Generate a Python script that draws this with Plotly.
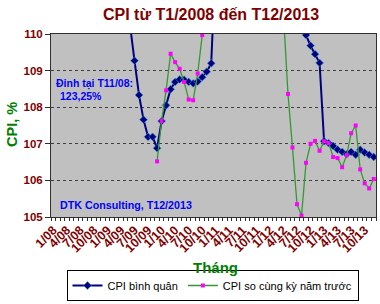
import plotly.graph_objects as go

# ---- data ----
years = ["08", "09", "10", "11", "12", "13"]
months = [f"{m}/{y}" for y in years for m in range(1, 13)]
tick_labels = months[::3]

cpi_binh_quan = [
    114.11, 114.90, 116.40, 117.60, 119.10, 120.40, 121.40, 122.20, 122.80, 123.10, 123.25, 122.97,
    117.48, 116.10, 114.50, 113.20, 111.70, 110.25, 109.27, 108.33, 107.66, 107.19, 107.19, 106.88,
    107.62, 108.05, 108.49, 108.69, 108.76, 108.75, 108.69, 108.65, 108.70, 108.82, 108.97, 109.20,
    112.17, 112.00, 112.50, 113.30, 114.10, 114.90, 115.60, 116.30, 116.90, 117.40, 117.80, 118.58,
    117.27, 116.85, 115.94, 114.58, 113.32, 112.38, 111.57, 110.35, 109.97, 109.68, 109.45, 109.21,
    107.07, 107.02, 106.94, 106.84, 106.78, 106.72, 106.78, 106.70, 106.84, 106.76, 106.70, 106.64,
]
cpi_cung_ky = [None] * 23 + [
    106.52,
    107.62, 108.46, 109.46, 109.23, 109.05, 108.69, 108.21, 108.19, 108.92, 109.97, 111.09, 111.75,
    112.17, 112.31, 113.16, 117.51, 119.78, 120.82, 122.16, 123.02, 122.42, 121.59, 119.83, 118.13,
    117.27, 116.44, 114.15, 110.54, 108.36, 106.90, 105.35, 105.04, 106.48, 107.00, 107.08, 106.81,
    107.07, 107.02, 106.64, 106.61, 106.36, 106.69, 107.29, 107.50, 106.30, 105.92, 105.78, 106.04,
]

x_idx = list(range(len(months)))
tick_idx = [months.index(t) for t in tick_labels]

FONT = "Liberation Sans, Arial, DejaVu Sans, sans-serif"
DARKRED = "#800000"
GREEN = "#008000"
BLUE_TXT = "#0000FF"

fig = go.Figure()
fig.add_trace(go.Scatter(
    x=x_idx, y=cpi_binh_quan, name="CPI bình quân", mode="lines+markers",
    line=dict(color="#000080", width=2),
    marker=dict(symbol="diamond", size=6, color="#000080", line=dict(color="#3399cc", width=0.6)),
    customdata=months,
))
fig.add_trace(go.Scatter(
    x=x_idx, y=cpi_cung_ky, name="CPI so cùng kỳ năm trước", mode="lines+markers",
    line=dict(color="#339933", width=1.3),
    marker=dict(symbol="square", size=4, color="#FF00FF"),
    customdata=months,
))

L, R, T, B = 51, 4, 34, 87
W, H = 380, 304
pw, ph = W - L - R, H - T - B


def px(xp):
    return (xp - L) / pw


def py(yp):
    return (H - B - yp) / ph


fig.update_layout(
    width=W, height=H,
    margin=dict(l=L, r=R, t=T, b=B, pad=0, autoexpand=False),
    paper_bgcolor="white", plot_bgcolor="#C0C0C0",
    font=dict(family=FONT, size=11, color="black"),
    showlegend=True,
    legend=dict(
        orientation="h", x=px(212.5), y=py(301), xanchor="center", yanchor="bottom",
        bgcolor="white", bordercolor="black", borderwidth=1,
        font=dict(size=11, color="black"), itemwidth=30,
        tracegroupgap=0,
    ),
    xaxis=dict(
        range=[-0.5, 71.5], tickmode="array", tickvals=tick_idx, ticktext=tick_labels,
        tickangle=-45, tickfont=dict(size=12.5, color=DARKRED, weight="bold"),
        ticks="", showgrid=False, zeroline=False,
        showline=True, linecolor="#303030", linewidth=1, mirror=True,
        minor=dict(ticks="outside", ticklen=3, tickcolor="#303030", tick0=-0.5, dtick=1, showgrid=False),
    ),
    yaxis=dict(
        range=[105, 110], dtick=1, tick0=105,
        tickfont=dict(size=11.5, color=DARKRED, weight="bold"),
        ticks="outside", ticklen=5, tickcolor="#303030",
        showgrid=True, gridcolor="#404040", griddash="dot", gridwidth=1,
        zeroline=False, showline=True, linecolor="#303030", linewidth=1, mirror=True,
    ),
)

annos = [
    dict(text="CPI từ T1/2008 đến T12/2013", x=px(210.5), y=py(14), xanchor="center", yanchor="middle",
         font=dict(size=16, color=DARKRED, weight="bold")),
    dict(text="CPI, %", x=px(12), y=py(125), xanchor="center", yanchor="middle", textangle=-90,
         font=dict(size=14.5, color=GREEN, weight="bold")),
    dict(text="Tháng", x=px(215.5), y=py(267), xanchor="center", yanchor="middle",
         font=dict(size=15, color=GREEN, weight="bold")),
    dict(text="Đỉnh tại T11/08:", x=px(54), y=py(83), xanchor="left", yanchor="middle",
         font=dict(size=10.5, color=BLUE_TXT, weight="bold")),
    dict(text="123,25%", x=px(58), y=py(96), xanchor="left", yanchor="middle",
         font=dict(size=10.5, color=BLUE_TXT, weight="bold")),
    dict(text="DTK Consulting, T12/2013", x=px(58), y=py(205), xanchor="left", yanchor="middle",
         font=dict(size=10.7, color=BLUE_TXT, weight="bold")),
]
for a in annos:
    a.update(xref="paper", yref="paper", showarrow=False)
    fig.add_annotation(**a)

fig.write_html("out.html")
